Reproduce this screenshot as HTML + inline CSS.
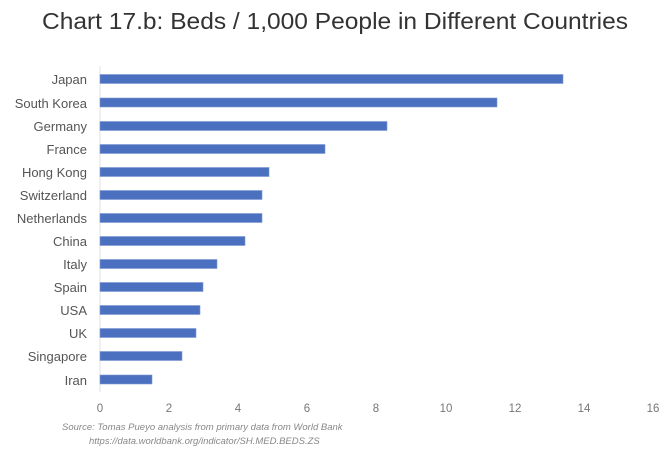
<!DOCTYPE html>
<html><head><meta charset="utf-8"><style>
body{margin:0;background:#fff;}
svg{display:block;font-family:"Liberation Sans",sans-serif;}
</style></head><body>
<svg width="670" height="450" viewBox="0 0 670 450">
<text x="42" y="29" font-size="23" fill="#333" textLength="586" lengthAdjust="spacingAndGlyphs">Chart 17.b: Beds / 1,000 People in Different Countries</text>
<line x1="100" y1="66" x2="100" y2="392" stroke="#e2e2e2" stroke-width="1"/>
<g fill="#4a70bf" stroke="#7d98d4" stroke-width="0.6">
<rect x="100" y="74.5" width="463" height="9"/>
<rect x="100" y="98" width="397" height="9"/>
<rect x="100" y="121.5" width="287" height="9"/>
<rect x="100" y="144.5" width="225" height="9"/>
<rect x="100" y="167.5" width="169" height="9"/>
<rect x="100" y="190.5" width="162" height="9"/>
<rect x="100" y="213.5" width="162" height="9"/>
<rect x="100" y="236.5" width="145" height="9"/>
<rect x="100" y="259.5" width="117" height="9"/>
<rect x="100" y="282.5" width="103" height="9"/>
<rect x="100" y="305.5" width="100" height="9"/>
<rect x="100" y="328.5" width="96" height="9"/>
<rect x="100" y="351.5" width="82" height="9"/>
<rect x="100" y="375" width="52" height="9"/>
</g>
<g font-size="13" fill="#555" text-anchor="end">
<text x="87" y="84">Japan</text>
<text x="87" y="108">South Korea</text>
<text x="87" y="131">Germany</text>
<text x="87" y="154">France</text>
<text x="87" y="177">Hong Kong</text>
<text x="87" y="200">Switzerland</text>
<text x="87" y="223">Netherlands</text>
<text x="87" y="246">China</text>
<text x="87" y="269">Italy</text>
<text x="87" y="292">Spain</text>
<text x="87" y="315">USA</text>
<text x="87" y="338">UK</text>
<text x="87" y="361">Singapore</text>
<text x="87" y="385">Iran</text>
</g>
<g font-size="11.5" fill="#777" text-anchor="middle">
<text x="100" y="412">0</text>
<text x="169" y="412">2</text>
<text x="238" y="412">4</text>
<text x="307" y="412">6</text>
<text x="376" y="412">8</text>
<text x="446" y="412">10</text>
<text x="515" y="412">12</text>
<text x="584" y="412">14</text>
<text x="653" y="412">16</text>
</g>
<g font-size="9.5" fill="#888" font-style="italic">
<text x="62" y="430">Source: Tomas Pueyo analysis from primary data from World Bank</text>
<text x="89" y="444">https://data.worldbank.org/indicator/SH.MED.BEDS.ZS</text>
</g>
</svg>
</body></html>
